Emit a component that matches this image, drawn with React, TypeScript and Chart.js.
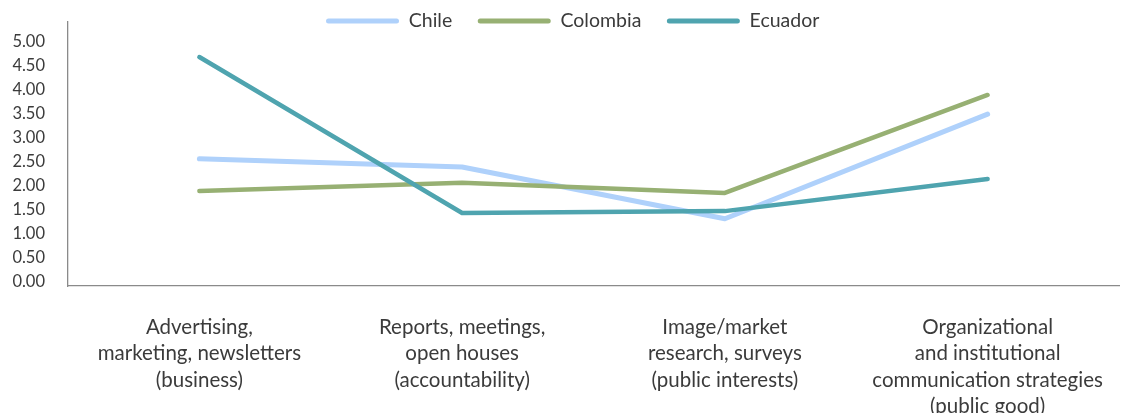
import React, { useEffect, useRef } from 'react';
import { Chart, registerables } from 'chart.js';

Chart.register(...registerables);

const categories: string[][] = [
  ['Advertising,', 'marketing, newsletters', '(business)'],
  ['Reports, meetings,', 'open houses', '(accountability)'],
  ['Image/market', 'research, surveys', '(public interests)'],
  ['Organizational', 'and institutional', 'communication strategies', '(public good)'],
];

const seriesNames = ['Chile', 'Colombia', 'Ecuador'];
const chileValues = [2.65, 2.48, 1.4, 3.58];
const colombiaValues = [1.98, 2.15, 1.94, 3.98];
const ecuadorValues = [4.77, 1.52, 1.56, 2.23];

const yMin = 0;
const yMax = 5.5;
const yStep = 0.5;
const yLastLabel = 5.0;

const colors = ['#AFD1FB', '#97B073', '#4FA4AF'];

const W = 1122;
const H = 413;
const FONT = 'Lato, "Open Sans", "Noto Sans", sans-serif';
const TEXT = '#3b3b3b';

const LEGEND_X = 326;
const LEGEND_Y = 21;
const LEGEND_FONT = 19.5;
const LEGEND_PAD = 25.5;

const legendPlacer = {
  id: 'legendPlacer',
  afterLayout(chart: any) {
    const lg = chart.legend;
    if (!lg) return;
    lg.left = LEGEND_X - LEGEND_PAD;
    lg.right = W;
    lg.top = LEGEND_Y - LEGEND_PAD - LEGEND_FONT / 2;
    lg.bottom = lg.top + 2 * LEGEND_PAD + LEGEND_FONT + 10;
    lg.width = lg.right - lg.left;
    lg.height = lg.bottom - lg.top;
  },
};

export default function App() {
  const ref = useRef<HTMLCanvasElement | null>(null);

  useEffect(() => {
    if (!ref.current) return;
    const data = [chileValues, colombiaValues, ecuadorValues];
    const chart = new Chart(ref.current, {
      type: 'line',
      data: {
        labels: categories,
        datasets: seriesNames.map((name, i) => ({
          label: name,
          data: data[i],
          borderColor: colors[i],
          backgroundColor: colors[i],
          borderWidth: i === 0 ? 5 : 4.5,
          borderCapStyle: 'round',
          borderJoinStyle: 'round',
          pointRadius: 0,
          pointHoverRadius: 0,
          tension: 0,
          fill: false,
          order: 3 - i,
        })),
      },
      options: {
        responsive: false,
        animation: false,
        layout: { padding: { top: 22, left: 0, right: 3, bottom: 0 } },
        plugins: {
          tooltip: { enabled: false },
          legend: {
            display: true,
            position: 'top',
            align: 'start',
            maxHeight: 0.001,
            labels: {
              boxWidth: 73,
              boxHeight: 5,
              useBorderRadius: true,
              borderRadius: 2.5,
              padding: LEGEND_PAD,
              color: TEXT,
              font: { family: FONT, size: LEGEND_FONT },
              sort: (a: any, b: any) => a.datasetIndex - b.datasetIndex,
              generateLabels: (chart: any) =>
                Chart.defaults.plugins.legend.labels
                  .generateLabels(chart)
                  .map((l: any) => ({ ...l, lineWidth: 0 })),
            },
          },
        },
        scales: {
          x: {
            type: 'category',
            offset: true,
            grid: { display: false, drawTicks: false, tickLength: 0 },
            border: { display: true, color: '#8a8a8a', width: 1.3 },
            ticks: {
              autoSkip: false,
              maxRotation: 0,
              minRotation: 0,
              padding: 28,
              color: TEXT,
              font: { family: FONT, size: 20.5, lineHeight: '26.5px' },
            },
            afterFit: (scale: any) => {
              scale.height = H - 286;
              scale.paddingLeft = 0;
              scale.paddingRight = 0;
            },
          },
          y: {
            min: yMin,
            max: yMax,
            grid: { display: false, drawTicks: false, tickLength: 0 },
            border: { display: true, color: '#8a8a8a', width: 1.3 },
            ticks: {
              stepSize: yStep,
              padding: 23,
              labelOffset: -4,
              color: TEXT,
              font: { family: FONT, size: 16.5 },
              callback: (v: any) => (Number(v) > yLastLabel + 0.01 ? '' : Number(v).toFixed(2)),
            },
            afterFit: (scale: any) => {
              scale.width = 68;
              scale.paddingTop = 0;
              scale.paddingBottom = 0;
            },
          },
        },
      } as any,
      plugins: [legendPlacer],
    });
    return () => chart.destroy();
  }, []);

  return (
    <div style={{ position: 'fixed', left: 0, top: 0, width: W, height: H, background: '#fff' }}>
      <canvas ref={ref} width={W} height={H} style={{ width: W, height: H, display: 'block' }} />
    </div>
  );
}
